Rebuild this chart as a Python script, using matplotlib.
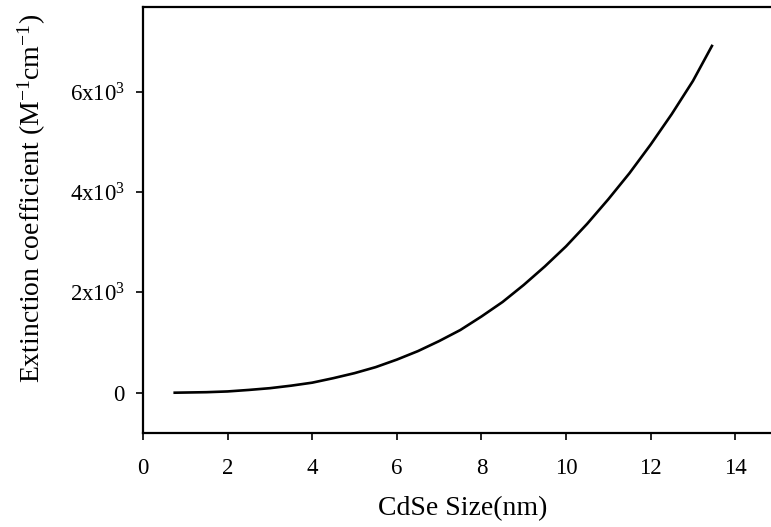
import matplotlib
matplotlib.use("Agg")
import matplotlib.pyplot as plt
from matplotlib.ticker import FixedLocator, FixedFormatter

plt.rcParams['font.family'] = ['Liberation Serif', 'DejaVu Serif']
plt.rcParams['mathtext.fontset'] = 'custom'
plt.rcParams['mathtext.rm'] = 'Liberation Serif'
plt.rcParams['mathtext.it'] = 'Liberation Serif:italic'

size_nm = [0.75, 1.5, 2.0, 2.5, 3.0, 3.5, 4.0, 4.5, 5.0, 5.5, 6.0, 6.5, 7.0, 7.5,
           8.0, 8.5, 9.0, 9.5, 10.0, 10.5, 11.0, 11.5, 12.0, 12.5, 13.0, 13.45]
ext_coef = [0, 10, 25, 55, 90, 140, 200, 290, 390, 510, 660, 830, 1030, 1250,
            1520, 1810, 2150, 2520, 2920, 3370, 3860, 4380, 4950, 5560, 6220, 6920]

x_ticks = [0, 2, 4, 6, 8, 10, 12, 14]
y_ticks = [0, 2000, 4000, 6000]
y_tick_labels = ['0', r'2x10$^3$', r'4x10$^3$', r'6x10$^3$']

fig = plt.figure(figsize=(7.71, 5.27), dpi=100)
ax = fig.add_axes([143 / 771, 0.1784, 640 / 771, 0.8086])
ax.plot(size_nm, ext_coef, color='black', linewidth=1.9)

ax.set_xlim(0, 15.13)
ax.set_ylim(-804, 7700)
ax.xaxis.set_major_locator(FixedLocator(x_ticks))
ax.yaxis.set_major_locator(FixedLocator(y_ticks))
ax.yaxis.set_major_formatter(FixedFormatter(y_tick_labels))

for s in ax.spines.values():
    s.set_linewidth(1.6)
ax.spines['right'].set_visible(False)
ax.tick_params(direction='out', length=5, width=1.2, labelsize=16.5)
ax.tick_params(axis='x', pad=13)
ax.tick_params(axis='y', pad=8)

ax.set_xlabel('CdSe Size(nm)', fontsize=20, labelpad=12)
ax.set_ylabel(r'Extinction coefficient (M$^{\mathregular{-1}}$cm$^{\mathregular{-1}}$)', fontsize=20)
ax.yaxis.set_label_coords(-0.148, 0.551)

fig.savefig('out.png', dpi=100)
